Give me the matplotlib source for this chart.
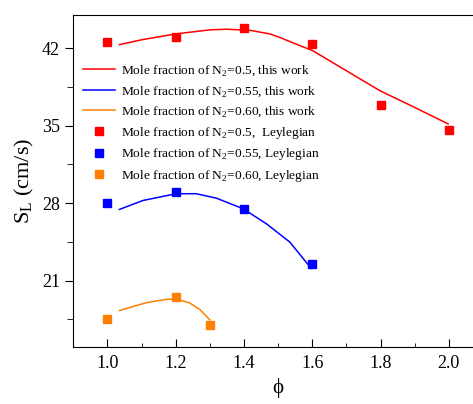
import numpy as np
import matplotlib
matplotlib.use('Agg')
import matplotlib.pyplot as plt
from matplotlib.ticker import MultipleLocator, FormatStrFormatter

plt.rcParams['font.family'] = 'Liberation Serif'
plt.rcParams['mathtext.fontset'] = 'custom'
plt.rcParams['mathtext.rm'] = 'Liberation Serif'

# this work (curves)
phi_050 = [1.035, 1.104, 1.201, 1.299, 1.348, 1.416, 1.475, 1.504, 1.534,
           1.602, 1.70, 1.798, 1.895, 1.998]
sl_050 = [42.32, 42.78, 43.29, 43.65, 43.71, 43.62, 43.29, 42.98, 42.6,
          41.76, 39.96, 38.16, 36.72, 35.16]
phi_055 = [1.035, 1.104, 1.201, 1.26, 1.319, 1.397, 1.465, 1.534, 1.597]
sl_055 = [27.43, 28.24, 28.85, 28.85, 28.45, 27.5, 26.15, 24.49, 22.1]
phi_060 = [1.035, 1.08, 1.113, 1.15, 1.18, 1.21, 1.24, 1.27, 1.3]
sl_060 = [18.3, 18.7, 19.0, 19.2, 19.33, 19.25, 19.0, 18.4, 17.46]

# Leylegian (squares)
ley_phi_050 = [1.0, 1.2, 1.4, 1.6, 1.8, 2.0]
ley_sl_050 = [42.57, 43.04, 43.84, 42.36, 36.86, 34.6]
ley_phi_055 = [1.0, 1.2, 1.4, 1.6]
ley_sl_055 = [28.03, 29.0, 27.5, 22.5]
ley_phi_060 = [1.0, 1.2, 1.3]
ley_sl_060 = [17.52, 19.56, 17.0]

red, blue, orange = '#FF0000', '#0000FF', '#FF8000'

fig = plt.figure(figsize=(4.73, 4.04), dpi=100)
ax = fig.add_axes([0.155, 0.141, 0.866, 0.822])

ax.plot(phi_050, sl_050, color=red, lw=1.1, label='Mole fraction of N$_2$=0.5, this work')
ax.plot(phi_055, sl_055, color=blue, lw=1.1, label='Mole fraction of N$_2$=0.55, this work')
ax.plot(phi_060, sl_060, color=orange, lw=1.1, label='Mole fraction of N$_2$=0.60, this work')
ax.plot(ley_phi_050, ley_sl_050, 's', color=red, ms=6, ls='none',
        label='Mole fraction of N$_2$=0.5,  Leylegian')
ax.plot(ley_phi_055, ley_sl_055, 's', color=blue, ms=6, ls='none',
        label='Mole fraction of N$_2$=0.55, Leylegian')
ax.plot(ley_phi_060, ley_sl_060, 's', color=orange, ms=6, ls='none',
        label='Mole fraction of N$_2$=0.60, Leylegian')

ax.set_xlim(0.9, 2.1)
ax.set_ylim(15, 45)
ax.xaxis.set_major_locator(MultipleLocator(0.2))
ax.xaxis.set_minor_locator(MultipleLocator(0.1))
ax.xaxis.set_major_formatter(FormatStrFormatter('%.1f'))
ax.set_yticks([21, 28, 35, 42])
ax.yaxis.set_minor_locator(MultipleLocator(3.5))
ax.tick_params(axis='x', which='major', direction='in', length=6, labelsize=13, pad=6)
ax.tick_params(axis='x', which='minor', direction='in', length=3)
ax.tick_params(axis='y', which='major', direction='out', length=6, labelsize=13)
ax.tick_params(axis='y', which='minor', direction='out', length=4)

ax.set_xlabel('ϕ', fontsize=15)
ax.set_ylabel('S$_\\mathregular{L}$ (cm/s)', fontsize=16, labelpad=4)

ax.legend(loc='upper left', bbox_to_anchor=(0.01, 0.869), frameon=False,
          fontsize=9.6, handlelength=2.4, handletextpad=0.45, labelspacing=0.43,
          borderaxespad=0)

fig.savefig('out.png', dpi=100)
